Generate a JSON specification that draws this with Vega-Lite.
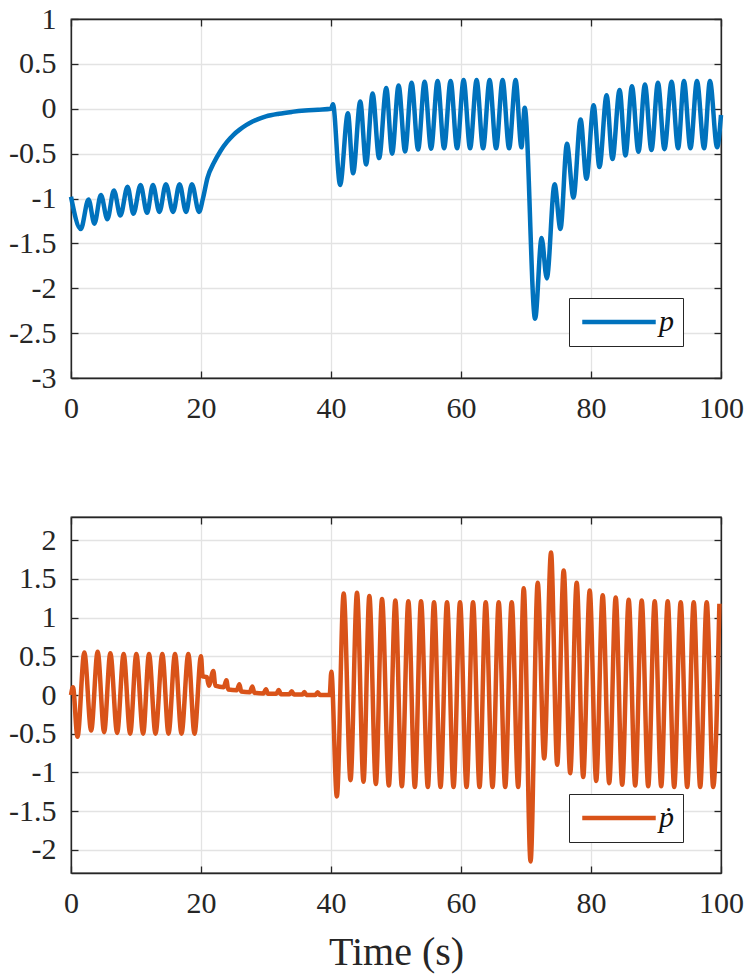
{
  "$schema": "https://vega.github.io/schema/vega-lite/v6.json",
  "padding": {"left": 7, "top": 3, "right": 2, "bottom": 5},
  "background": "white",
  "datasets": {
    "p": [
      {"t": 0, "v": -0.98}, {"t": 1.5, "v": -1.34}, {"t": 2.7, "v": -1.01}, {"t": 3.6, "v": -1.28},
      {"t": 4.6, "v": -0.96}, {"t": 5.6, "v": -1.23}, {"t": 6.6, "v": -0.91}, {"t": 7.6, "v": -1.19},
      {"t": 8.7, "v": -0.87}, {"t": 9.6, "v": -1.17}, {"t": 10.7, "v": -0.85}, {"t": 11.7, "v": -1.16},
      {"t": 12.6, "v": -0.85}, {"t": 13.6, "v": -1.15}, {"t": 14.6, "v": -0.84}, {"t": 15.7, "v": -1.15},
      {"t": 16.7, "v": -0.84}, {"t": 17.7, "v": -1.15}, {"t": 18.6, "v": -0.84}, {"t": 19.7, "v": -1.15},
      {"t": 20.3, "v": -1.0}, {"t": 21, "v": -0.77}, {"t": 22, "v": -0.6}, {"t": 23, "v": -0.47},
      {"t": 24, "v": -0.37}, {"t": 25, "v": -0.29}, {"t": 26, "v": -0.23}, {"t": 27, "v": -0.18},
      {"t": 28, "v": -0.14}, {"t": 29, "v": -0.11}, {"t": 30, "v": -0.085}, {"t": 32, "v": -0.055},
      {"t": 34, "v": -0.035}, {"t": 36, "v": -0.02}, {"t": 38, "v": -0.01}, {"t": 40, "v": 0.0},
      {"t": 40.3, "v": 0.05}, {"t": 41.4, "v": -0.85}, {"t": 42.6, "v": -0.05}, {"t": 43.4, "v": -0.72},
      {"t": 44.5, "v": 0.08}, {"t": 45.4, "v": -0.62}, {"t": 46.4, "v": 0.17}, {"t": 47.4, "v": -0.55},
      {"t": 48.5, "v": 0.23}, {"t": 49.4, "v": -0.5}, {"t": 50.4, "v": 0.26}, {"t": 51.4, "v": -0.475},
      {"t": 52.4, "v": 0.29}, {"t": 53.4, "v": -0.455}, {"t": 54.4, "v": 0.3}, {"t": 55.4, "v": -0.445},
      {"t": 56.4, "v": 0.31}, {"t": 57.4, "v": -0.44}, {"t": 58.4, "v": 0.31}, {"t": 59.4, "v": -0.44},
      {"t": 60.4, "v": 0.32}, {"t": 61.4, "v": -0.44}, {"t": 62.4, "v": 0.32}, {"t": 63.4, "v": -0.44},
      {"t": 64.4, "v": 0.32}, {"t": 65.4, "v": -0.44}, {"t": 66.4, "v": 0.32}, {"t": 67.4, "v": -0.44},
      {"t": 68.4, "v": 0.32}, {"t": 69.3, "v": -0.43}, {"t": 69.8, "v": 0.01}, {"t": 71.4, "v": -2.34},
      {"t": 72.4, "v": -1.44}, {"t": 73.2, "v": -1.89}, {"t": 74.4, "v": -0.84}, {"t": 75.3, "v": -1.34},
      {"t": 76.3, "v": -0.39}, {"t": 77.3, "v": -0.99}, {"t": 78.4, "v": -0.12}, {"t": 79.3, "v": -0.78},
      {"t": 80.4, "v": 0.04}, {"t": 81.3, "v": -0.65}, {"t": 82.4, "v": 0.15}, {"t": 83.3, "v": -0.56},
      {"t": 84.4, "v": 0.21}, {"t": 85.3, "v": -0.52}, {"t": 86.3, "v": 0.25}, {"t": 87.3, "v": -0.48},
      {"t": 88.3, "v": 0.27}, {"t": 89.3, "v": -0.46}, {"t": 90.3, "v": 0.29}, {"t": 91.3, "v": -0.45},
      {"t": 92.4, "v": 0.3}, {"t": 93.4, "v": -0.44}, {"t": 94.3, "v": 0.31}, {"t": 95.3, "v": -0.44},
      {"t": 96.3, "v": 0.31}, {"t": 97.4, "v": -0.44}, {"t": 98.3, "v": 0.31}, {"t": 99.4, "v": -0.43},
      {"t": 100, "v": -0.07}
    ],
    "pdot": [
      {"t": 0, "v": 0.0}, {"t": 0.3, "v": 0.1}, {"t": 1.0, "v": -0.54}, {"t": 2.05, "v": 0.55},
      {"t": 3.1, "v": -0.46}, {"t": 4.1, "v": 0.56}, {"t": 5.1, "v": -0.48}, {"t": 6.05, "v": 0.54},
      {"t": 7.1, "v": -0.49}, {"t": 8.1, "v": 0.53}, {"t": 9.1, "v": -0.5}, {"t": 10.05, "v": 0.53},
      {"t": 11.1, "v": -0.5}, {"t": 12.0, "v": 0.53}, {"t": 13.0, "v": -0.5}, {"t": 14.05, "v": 0.53},
      {"t": 15.0, "v": -0.5}, {"t": 16.0, "v": 0.53}, {"t": 17.0, "v": -0.5}, {"t": 18.05, "v": 0.53},
      {"t": 19.0, "v": -0.5}, {"t": 20.0, "v": 0.5}, {"t": 20.25, "v": 0.24}, {"t": 20.9, "v": 0.23},
      {"t": 21.2, "v": 0.12}, {"t": 21.9, "v": 0.31}, {"t": 22.2, "v": 0.12}, {"t": 23.5, "v": 0.1},
      {"t": 23.9, "v": 0.19}, {"t": 24.2, "v": 0.07}, {"t": 25.5, "v": 0.06}, {"t": 25.9, "v": 0.14},
      {"t": 26.2, "v": 0.045}, {"t": 27.5, "v": 0.035}, {"t": 27.9, "v": 0.11}, {"t": 28.2, "v": 0.03},
      {"t": 29.6, "v": 0.02}, {"t": 30.0, "v": 0.075}, {"t": 30.3, "v": 0.015}, {"t": 31.6, "v": 0.015},
      {"t": 31.95, "v": 0.065}, {"t": 32.3, "v": 0.01}, {"t": 33.6, "v": 0.01}, {"t": 33.95, "v": 0.05},
      {"t": 34.3, "v": 0.005}, {"t": 35.6, "v": 0.005}, {"t": 35.9, "v": 0.04}, {"t": 36.2, "v": 0.0},
      {"t": 37.6, "v": 0.0}, {"t": 37.95, "v": 0.035}, {"t": 38.3, "v": 0.0}, {"t": 39.8, "v": 0.0},
      {"t": 40.05, "v": 0.3}, {"t": 40.9, "v": -1.31}, {"t": 41.95, "v": 1.31}, {"t": 43.0, "v": -1.1},
      {"t": 44.0, "v": 1.32}, {"t": 45.0, "v": -1.12}, {"t": 45.9, "v": 1.28}, {"t": 46.9, "v": -1.15},
      {"t": 47.85, "v": 1.24}, {"t": 48.9, "v": -1.17}, {"t": 49.9, "v": 1.22}, {"t": 50.9, "v": -1.18},
      {"t": 51.9, "v": 1.21}, {"t": 52.9, "v": -1.19}, {"t": 53.85, "v": 1.21}, {"t": 54.9, "v": -1.19},
      {"t": 55.85, "v": 1.2}, {"t": 56.85, "v": -1.19}, {"t": 57.85, "v": 1.2}, {"t": 58.85, "v": -1.19},
      {"t": 59.85, "v": 1.2}, {"t": 60.85, "v": -1.19}, {"t": 61.85, "v": 1.2}, {"t": 62.85, "v": -1.19},
      {"t": 63.8, "v": 1.2}, {"t": 64.85, "v": -1.19}, {"t": 65.8, "v": 1.2}, {"t": 66.8, "v": -1.19},
      {"t": 67.8, "v": 1.2}, {"t": 68.8, "v": -1.19}, {"t": 69.65, "v": 1.38}, {"t": 70.7, "v": -2.15},
      {"t": 71.8, "v": 1.45}, {"t": 72.8, "v": -0.82}, {"t": 73.85, "v": 1.84}, {"t": 74.8, "v": -0.9},
      {"t": 75.8, "v": 1.61}, {"t": 76.8, "v": -1.01}, {"t": 77.8, "v": 1.45}, {"t": 78.8, "v": -1.06},
      {"t": 79.8, "v": 1.35}, {"t": 80.8, "v": -1.11}, {"t": 81.8, "v": 1.29}, {"t": 82.8, "v": -1.14},
      {"t": 83.8, "v": 1.26}, {"t": 84.8, "v": -1.16}, {"t": 85.8, "v": 1.23}, {"t": 86.8, "v": -1.17},
      {"t": 87.8, "v": 1.22}, {"t": 88.8, "v": -1.18}, {"t": 89.8, "v": 1.21}, {"t": 90.8, "v": -1.18},
      {"t": 91.8, "v": 1.21}, {"t": 92.8, "v": -1.19}, {"t": 93.8, "v": 1.2}, {"t": 94.8, "v": -1.19},
      {"t": 95.8, "v": 1.2}, {"t": 96.8, "v": -1.19}, {"t": 97.8, "v": 1.2}, {"t": 98.8, "v": -1.19},
      {"t": 99.75, "v": 1.18}
    ]
  },
  "spacing": 91,
  "vconcat": [
    {
      "width": 650,
      "height": 359,
      "data": {"name": "p"},
      "layer": [
        {
          "mark": {"type": "line", "interpolate": "monotone", "strokeWidth": 4.5},
          "encoding": {
            "x": {"field": "t", "type": "quantitative", "scale": {"domain": [0, 100], "nice": false},
                  "axis": {"title": null, "labelFont": "Times New Roman", "values": [0, 20, 40, 60, 80, 100]}},
            "y": {"field": "v", "type": "quantitative", "scale": {"domain": [-3, 1], "nice": false},
                  "axis": {"title": null, "labelFont": "Times New Roman", "values": [-3, -2.5, -2, -1.5, -1, -0.5, 0, 0.5, 1]}},
            "color": {"datum": "p", "type": "nominal", "scale": {"range": ["#0072BD"]},
                      "legend": {"orient": "none", "legendX": 498, "legendY": 279, "labelFont": "Times New Roman"}}
          }
        },
        {
          "mark": {"type": "line", "opacity": 0},
          "encoding": {
            "x": {"field": "t", "type": "quantitative",
                  "axis": {"title": null, "orient": "top", "labels": false, "grid": false, "values": [0, 20, 40, 60, 80, 100]}},
            "y": {"field": "v", "type": "quantitative",
                  "axis": {"title": null, "orient": "right", "labels": false, "grid": false, "values": [-3, -2.5, -2, -1.5, -1, -0.5, 0, 0.5, 1]}}
          }
        }
      ],
      "resolve": {"axis": {"x": "independent", "y": "independent"}}
    },
    {
      "width": 650,
      "height": 356,
      "data": {"name": "pdot"},
      "layer": [
        {
          "mark": {"type": "line", "interpolate": "monotone", "strokeWidth": 4.5},
          "encoding": {
            "x": {"field": "t", "type": "quantitative", "scale": {"domain": [0, 100], "nice": false},
                  "axis": {"title": "Time (s)", "labelFont": "Times New Roman", "values": [0, 20, 40, 60, 80, 100]}},
            "y": {"field": "v", "type": "quantitative", "scale": {"domain": [-2.3, 2.3], "nice": false},
                  "axis": {"title": null, "labelFont": "Times New Roman", "values": [-2, -1.5, -1, -0.5, 0, 0.5, 1, 1.5, 2]}},
            "color": {"datum": "ṗ", "type": "nominal", "scale": {"range": ["#D95319"]},
                      "legend": {"orient": "none", "legendX": 498, "legendY": 277, "labelFont": "Times New Roman"}}
          }
        },
        {
          "mark": {"type": "line", "opacity": 0},
          "encoding": {
            "x": {"field": "t", "type": "quantitative",
                  "axis": {"title": null, "orient": "top", "labels": false, "grid": false, "values": [0, 20, 40, 60, 80, 100]}},
            "y": {"field": "v", "type": "quantitative",
                  "axis": {"title": null, "orient": "right", "labels": false, "grid": false, "values": [-2, -1.5, -1, -0.5, 0, 0.5, 1, 1.5, 2]}}
          }
        }
      ],
      "resolve": {"axis": {"x": "independent", "y": "independent"}}
    }
  ],
  "resolve": {"scale": {"color": "independent"}, "legend": {"color": "independent"}},
  "config": {
    "font": "Liberation Serif",
    "view": {"stroke": "#262626", "strokeWidth": 1.3},
    "axis": {
      "zindex": 1,
      "labelFontSize": 30,
      "labelColor": "#262626",
      "labelExpr": "toString(datum.value)",
      "labelFlush": false,
      "labelPadding": 22,
      "domainColor": "#262626",
      "domainWidth": 1.3,
      "tickColor": "#262626",
      "tickWidth": 1.3,
      "tickSize": -7,
      "gridColor": "#e3e3e3",
      "gridWidth": 1.3,
      "titleFont": "Liberation Serif",
      "titleFontSize": 40,
      "titleFontWeight": "normal",
      "titleColor": "#262626",
      "titlePadding": 14
    },
    "legend": {
      "title": null,
      "symbolType": "M-3,0H3",
      "symbolSize": 600,
      "symbolOffset": 26,
      "symbolStrokeWidth": 4.5,
      "symbolOpacity": 1,
      "labelFontStyle": "italic",
      "labelFontSize": 30,
      "labelColor": "#111111",
      "labelOffset": 25,
      "padding": 9,
      "strokeColor": "#262626",
      "fillColor": "white"
    }
  }
}
